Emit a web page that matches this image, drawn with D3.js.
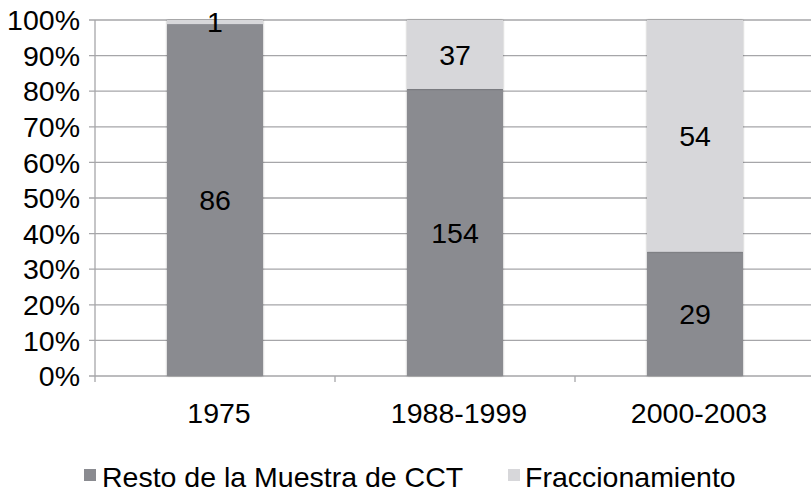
<!DOCTYPE html>
<html><head><meta charset="utf-8">
<script src="https://cdn.jsdelivr.net/npm/d3@7"></script>
<style>body{margin:0;background:#fff}svg{display:block}text{font-family:"Liberation Sans",Arial,Helvetica,sans-serif}</style>
</head><body><svg id="c" width="811" height="492"></svg>
<script>
const categories = ["1975", "1988-1999", "2000-2003"];
const seriesNames = ["Resto de la Muestra de CCT", "Fraccionamiento"];
const resto = [86, 154, 29];
const fraccionamiento = [1, 37, 54];
const yTicks = [0, 0.1, 0.2, 0.3, 0.4, 0.5, 0.6, 0.7, 0.8, 0.9, 1];
const colors = ["#8a8b90", "#d7d7da"];

(function () {
const FS = 28.5;
const svg = d3.select("#c");
const mLeft = 95, mTop = 20, mBottom = 376, mRight = 815;
const x = d3.scaleBand().domain(categories).range([mLeft, mRight]).padding(0);
const y = d3.scaleLinear().domain([0, 1]).range([mBottom, mTop]);

const defs = svg.append("defs");
const f = defs.append("filter").attr("id","sh").attr("x","-10%").attr("y","-5%").attr("width","120%").attr("height","110%");
f.append("feGaussianBlur").attr("in","SourceAlpha").attr("stdDeviation",1.2).attr("result","b");
f.append("feComponentTransfer").attr("in","b").attr("result","o2").append("feFuncA").attr("type","linear").attr("slope",0.35);
const m = f.append("feMerge"); m.append("feMergeNode").attr("in","o2"); m.append("feMergeNode").attr("in","SourceGraphic");

// gridlines
svg.append("g").selectAll("line").data(yTicks).join("line")
  .attr("x1", mLeft - 6).attr("x2", 811).attr("y1", d => y(d)).attr("y2", d => y(d))
  .attr("stroke", "#a6a6a9").attr("stroke-width", 1.3);
// y axis line
svg.append("line").attr("x1", mLeft).attr("x2", mLeft).attr("y1", mTop).attr("y2", mBottom + 6)
  .attr("stroke", "#a6a6a9").attr("stroke-width", 1.3);
// x ticks
svg.append("g").selectAll("line").data(categories.slice(1)).join("line")
  .attr("x1", d => x(d)).attr("x2", d => x(d)).attr("y1", mBottom).attr("y2", mBottom + 6)
  .attr("stroke", "#a6a6a9").attr("stroke-width", 1.3);

// y labels
svg.append("g").selectAll("text").data(yTicks).join("text")
  .attr("x", 80).attr("y", d => y(d)).attr("dy", "0.36em").attr("text-anchor", "end")
  .attr("font-size", FS).attr("fill", "#000").text(d => Math.round(d * 100) + "%");

// x labels
svg.append("g").selectAll("text").data(categories).join("text")
  .attr("x", d => x(d) + x.bandwidth() / 2 + 4).attr("y", 423).attr("text-anchor", "middle")
  .attr("font-size", FS).attr("fill", "#000").text(d => d);

const data = categories.map((c, i) => ({ cat: c, resto: resto[i], fracc: fraccionamiento[i] }));
const stack = d3.stack().keys(["resto", "fracc"]).offset(d3.stackOffsetExpand)(data);
const bw = x.bandwidth() * 0.4;

stack.forEach((s, si) => {
  svg.append("g").selectAll("rect").data(s).join("rect")
    .attr("x", d => x(d.data.cat) + (x.bandwidth() - bw) / 2)
    .attr("width", bw)
    .attr("y", d => y(d[1]))
    .attr("height", d => y(d[0]) - y(d[1]))
    .attr("fill", colors[si]).attr("filter", "url(#sh)");
});
stack.forEach((s, si) => {
  svg.append("g").selectAll("text").data(s).join("text")
    .attr("x", d => x(d.data.cat) + x.bandwidth() / 2)
    .attr("y", d => (y(d[0]) + y(d[1])) / 2).attr("dy", "0.36em")
    .attr("text-anchor", "middle").attr("font-size", FS).attr("fill", "#000")
    .text(d => d.data[s.key]);
});

// legend
const leg = [{x: 84, tx: 102}, {x: 508, tx: 525}];
seriesNames.forEach((n, i) => {
  svg.append("rect").attr("x", leg[i].x).attr("y", 469).attr("width", 12).attr("height", 12).attr("fill", colors[i]);
  svg.append("text").attr("x", leg[i].tx).attr("y", 487).attr("font-size", FS).attr("fill", "#000").text(n);
});
})();
</script></body></html>
